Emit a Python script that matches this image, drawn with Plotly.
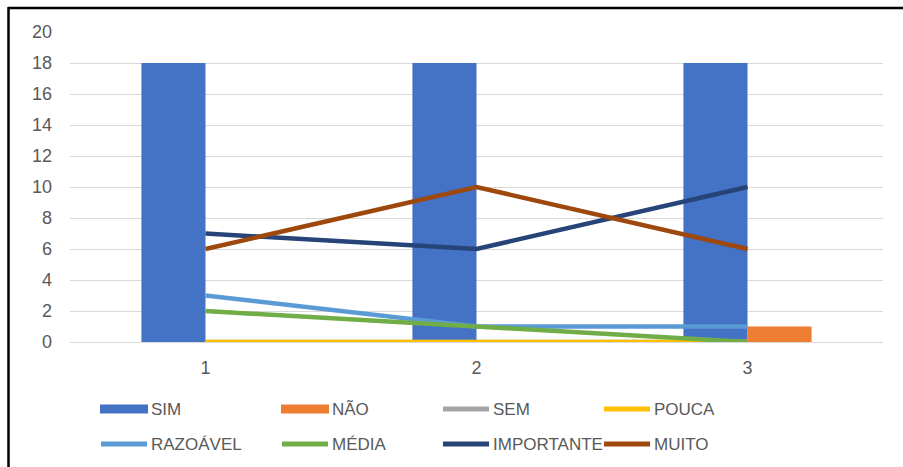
import plotly.graph_objects as go

# Categories on the x axis
categories = [1, 2, 3]
category_labels = ["1", "2", "3"]

# Bar series
bar_names = ["SIM", "NÃO"]
bar_values = [
    [18, 18, 18],
    [0, 0, 1],
]
bar_colors = ["#4472C4", "#ED7D31"]

# Line series
line_names = ["SEM", "POUCA", "RAZOÁVEL", "MÉDIA", "IMPORTANTE", "MUITO"]
line_values = [
    [0, 0, 0],
    [0, 0, 0],
    [3, 1, 1],
    [2, 1, 0],
    [7, 6, 10],
    [6, 10, 6],
]
line_colors = ["#A5A5A5", "#FFC000", "#5B9BD5", "#70AD47", "#264478", "#9E480E"]

y_ticks = list(range(0, 21, 2))

W, H = 903, 467
ML, MR, MT, MB = 70, 20, 32, 125
PW, PH = W - ML - MR, H - MT - MB
TEXT = "#595959"
FONT = "Liberation Sans"


def px_x(x):
    return (x - ML) / PW


def px_y(y):
    return (H - MB - y) / PH


fig = go.Figure()

for name, vals, color in zip(bar_names, bar_values, bar_colors):
    fig.add_trace(go.Bar(x=categories, y=vals, name=name,
                         marker=dict(color=color, line=dict(width=0)),
                         showlegend=False))

for name, vals, color in zip(line_names, line_values, line_colors):
    fig.add_trace(go.Scatter(x=categories, y=vals, name=name, mode="lines",
                             line=dict(color=color, width=4.5),
                             cliponaxis=False, showlegend=False))

# Legend drawn below the plot: two rows of four entries
shapes = []
annotations = []
legend_cols = [100, 281, 442, 603]
legend_rows = [409, 444]
entries = [(n, c, "bar") for n, c in zip(bar_names, bar_colors)] + \
          [(n, c, "line") for n, c in zip(line_names, line_colors)]
for i, (name, color, kind) in enumerate(entries):
    x0 = legend_cols[i % 4]
    yc = legend_rows[i // 4]
    x1 = x0 + 48
    if kind == "bar":
        shapes.append(dict(type="rect", xref="paper", yref="paper",
                           x0=px_x(x0), x1=px_x(x1),
                           y0=px_y(yc - 4.5), y1=px_y(yc + 4.5),
                           fillcolor=color, line=dict(width=0)))
    else:
        shapes.append(dict(type="line", xref="paper", yref="paper",
                           x0=px_x(x0 + 1), x1=px_x(x1 - 1),
                           y0=px_y(yc), y1=px_y(yc),
                           line=dict(color=color, width=5)))
    annotations.append(dict(text=name, xref="paper", yref="paper",
                            x=px_x(x1 + 1), y=px_y(yc),
                            xanchor="left", yanchor="middle", showarrow=False,
                            font=dict(family=FONT, size=17, color=TEXT)))

# Frame lines around the chart (top and left)
shapes.append(dict(type="line", xref="paper", yref="paper",
                   x0=px_x(8), x1=px_x(W + 5), y0=px_y(8), y1=px_y(8),
                   line=dict(color="black", width=2.5)))
shapes.append(dict(type="line", xref="paper", yref="paper",
                   x0=px_x(8.5), x1=px_x(8.5), y0=px_y(7), y1=px_y(H + 5),
                   line=dict(color="black", width=2.5)))

fig.update_layout(
    width=W, height=H,
    margin=dict(l=ML, r=MR, t=MT, b=MB),
    paper_bgcolor="white", plot_bgcolor="white",
    barmode="group", bargap=0.527, bargroupgap=0,
    shapes=shapes, annotations=annotations,
    font=dict(family=FONT, size=17, color=TEXT),
    xaxis=dict(range=[0.5, 3.5], tickvals=categories, ticktext=category_labels,
               showgrid=False, zeroline=False, showline=False, ticks="",
               ticklabelstandoff=13, tickfont=dict(size=18, color=TEXT)),
    yaxis=dict(range=[0, 20], tickvals=y_ticks, showgrid=True,
               gridcolor="#D9D9D9", gridwidth=1, zeroline=True,
               zerolinecolor="#D9D9D9", zerolinewidth=1, showline=False,
               ticks="", ticklabelstandoff=17,
               tickfont=dict(size=18, color=TEXT)),
)

fig.write_html("out.html")
